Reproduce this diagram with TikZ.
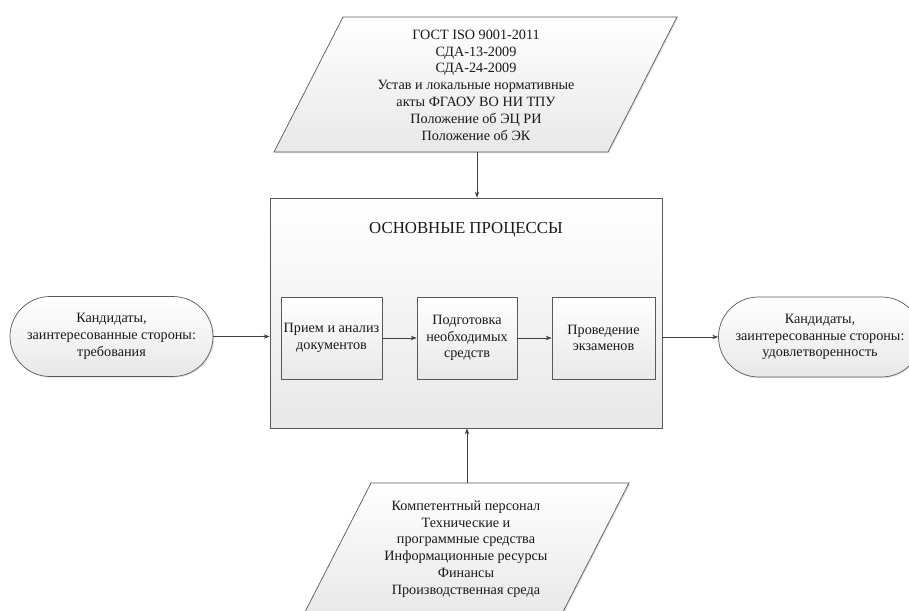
\documentclass[tikz,border=0pt]{standalone}
\usepackage{fontspec}
\setmainfont{Liberation Serif}
\usetikzlibrary{arrows.meta,shapes.misc,shadows}
\begin{document}
\begin{tikzpicture}[x=1pt,y=-1pt,
  txt/.style={font=\fontsize{14.2}{16.8}\selectfont, align=center, text=black!90},
  shapefill/.style={draw=black!65, line width=0.7pt, top color=white, bottom color=black!9,
    drop shadow={opacity=0.22, shadow xshift=1.2pt, shadow yshift=-1.2pt}},
  procbox/.style={shapefill, rectangle, inner sep=1pt},
  term/.style={shapefill, rounded rectangle, minimum width=203pt, minimum height=80pt, inner sep=0pt},
  arr/.style={draw=black!75, line width=0.7pt, -{Stealth[length=6pt,width=4.5pt]}}
]
\useasboundingbox (0,0) rectangle (909,610);

% top parallelogram
\path[shapefill] (343,17) -- (677,17) -- (608,152) -- (274,152) -- cycle;
\node[txt] (norms) at (476,85) {ГОСТ ISO 9001-2011\\СДА-13-2009\\СДА-24-2009\\Устав и локальные нормативные\\акты ФГАОУ ВО НИ ТПУ\\Положение об ЭЦ РИ\\Положение об ЭК};
\coordinate (normsB) at (477,152);

% bottom parallelogram
\path[shapefill] (371,483) -- (629,483) -- (561.4,615) -- (303.4,615) -- cycle;
\node[txt] (res) at (466,549) {Компетентный персонал\\Технические и\\программные средства\\Информационные ресурсы\\Финансы\\Производственная среда};
\coordinate (resT) at (467,483);

% main box
\node[procbox, minimum width=392pt, minimum height=230pt] (main) at (466,313) {};
\node[txt, font=\fontsize{16.8}{19}\selectfont] (title) at (466,230) {ОСНОВНЫЕ ПРОЦЕССЫ};

% inner boxes
\node[procbox, txt, minimum width=101pt, minimum height=82pt] (p1) at (331.5,338) {Прием и анализ\\документов};
\node[procbox, txt, minimum width=100pt, minimum height=82pt] (p2) at (467,338) {Подготовка\\необходимых\\средств};
\node[procbox, txt, minimum width=103pt, minimum height=82pt] (p3) at (603.5,338) {Проведение\\экзаменов};

% terminals
\node[term, txt] (cand) at (111.5,336.5) {Кандидаты,\\заинтересованные стороны:\\требования};
\node[term, txt] (sat) at (820,337) {Кандидаты,\\заинтересованные стороны:\\удовлетворенность};

% connectors
\draw[arr] (normsB) -- (normsB |- main.north);
\draw[arr] (resT) -- (resT |- main.south);
\draw[arr] (cand.east) -- (cand.east -| main.west);
\draw[arr] (main.east |- sat.west) -- (sat.west);
\draw[arr] (p1.east) -- (p2.west);
\draw[arr] (p2.east) -- (p3.west);
\end{tikzpicture}
\end{document}
